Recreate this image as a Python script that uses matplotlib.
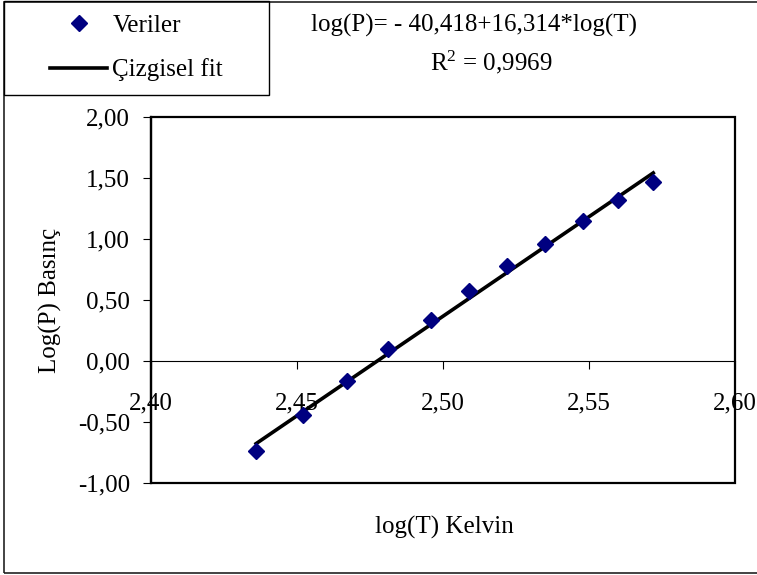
import matplotlib
matplotlib.use("Agg")
import matplotlib.pyplot as plt
from matplotlib.patches import Rectangle
from matplotlib.ticker import FuncFormatter, MultipleLocator
import numpy as np

plt.rcParams['font.family'] = ['Liberation Serif', 'DejaVu Serif']
plt.rcParams['font.size'] = 18
plt.rcParams['mathtext.fontset'] = 'custom'
plt.rcParams['mathtext.rm'] = 'Liberation Serif'

# log(T) Kelvin vs log(P)
log_T = [2.436, 2.452, 2.467, 2.481, 2.496, 2.509, 2.522, 2.535, 2.548, 2.560, 2.572]
log_P = [-0.74, -0.44, -0.16, 0.10, 0.34, 0.57, 0.78, 0.96, 1.15, 1.32, 1.47]
intercept = -40.418
slope = 16.314

W, H = 757, 575
fig = plt.figure(figsize=(W / 100, H / 100), dpi=100)

# outer chart frame and legend box (pixel coords -> figure fraction)
fig.patches.append(Rectangle((4 / W, 2 / H), 1.0, 571 / H, fill=False,
                             lw=1.2, ec='#222222', transform=fig.transFigure))
leg_box = (4 / W, 1 - 95 / H, 265 / W, 94 / H)
fig.patches.append(Rectangle(leg_box[:2], leg_box[2], leg_box[3], fill=False,
                             lw=1.0, ec='black', transform=fig.transFigure))

ax = fig.add_axes([151 / W, (H - 483) / H, 584 / W, 366 / H])

xs = np.array([min(log_T), max(log_T)])
ax.plot(log_T, log_P, 'D', color='#000080', ms=8, label='Veriler', zorder=3)
ax.plot(xs, intercept + slope * xs, '-', color='black', lw=2.6,
        label='Çizgisel fit', zorder=2)

ax.set_xlim(2.40, 2.60)
ax.set_ylim(-1.0, 2.0)
ax.xaxis.set_major_locator(MultipleLocator(0.05))
ax.yaxis.set_major_locator(MultipleLocator(0.5))
fmt = FuncFormatter(lambda v, p: f"{v:.2f}".replace('.', ','))
ax.xaxis.set_major_formatter(fmt)
ax.yaxis.set_major_formatter(fmt)

for s in ('top', 'right'):
    ax.spines[s].set_visible(False)
ax.spines['left'].set_linewidth(1.6)
ax.spines['bottom'].set_position(('data', 0))
ax.spines['bottom'].set_linewidth(0.8)
ax.add_patch(Rectangle((0, 0), 1, 1, fill=False, lw=1.6, ec='black',
                       transform=ax.transAxes, clip_on=False, zorder=4))

ax.tick_params(axis='x', direction='out', length=6, width=0.8, pad=17)
ax.tick_params(axis='y', direction='out', length=6, width=0.8, pad=9)

fig.text(50 / W, 1 - 300 / H, 'Log(P) Basınç', rotation=90, ha='center', va='center')
fig.text(444 / W, 1 - 527 / H, 'log(T) Kelvin', ha='center', va='center')

fig.text(474 / W, 1 - 25 / H, 'log(P)= - 40,418+16,314*log(T)', ha='center', va='center')
fig.text(491 / W, 1 - 62 / H, r'$\mathregular{R^2}$ = 0,9969', ha='center', va='center')

fig.legend(loc='center', bbox_to_anchor=leg_box, frameon=False,
           handlelength=2.3, handletextpad=0.2, labelspacing=0.85,
           borderpad=0.2, borderaxespad=0.0)

fig.savefig('out.png', dpi=100)
